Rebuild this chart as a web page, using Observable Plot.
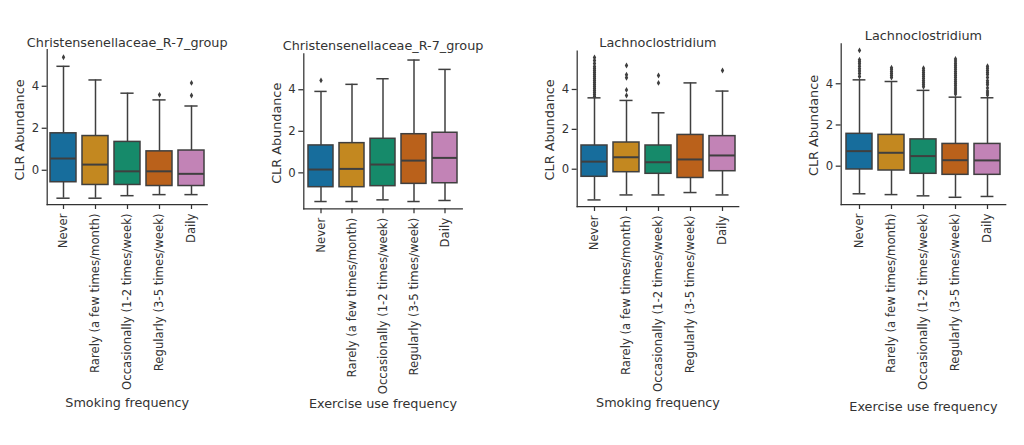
<!DOCTYPE html>
<html>
<head>
<meta charset="utf-8">
<script src="https://cdn.jsdelivr.net/npm/d3@7"></script>
<script src="https://cdn.jsdelivr.net/npm/@observablehq/plot@0.6"></script>
<style>
  html, body { margin: 0; padding: 0; background: #fff; }
  #wrap { position: relative; width: 1024px; height: 445px; overflow: hidden; background: #fff; }
  #wrap svg { position: absolute; top: 0; background: transparent; }
</style>
</head>
<body>
<div id="wrap"></div>
<script>
// ---------- data ----------
const categories = ["Never", "Rarely (a few times/month)", "Occasionally (1-2 times/week)", "Regularly (3-5 times/week)", "Daily"];
const palette = ["#176d9c", "#c38820", "#168a6a", "#ba611b", "#c283b6"];
const yTicks = [0, 2, 4];
const titles = ["Christensenellaceae_R-7_group", "Christensenellaceae_R-7_group", "Lachnoclostridium", "Lachnoclostridium"];
const xLabels = ["Smoking frequency", "Exercise use frequency", "Smoking frequency", "Exercise use frequency"];
const yLabel = "CLR Abundance";

// box stats per category: [lower whisker, Q1, median, Q3, upper whisker]
const chrSmokeBox = [[-1.33, -0.57, 0.56, 1.76, 4.95], [-1.33, -0.70, 0.27, 1.63, 4.30], [-1.21, -0.70, -0.05, 1.35, 3.67], [-1.16, -0.75, -0.05, 0.90, 3.35], [-1.16, -0.75, -0.17, 0.94, 3.06]];
const chrSmokeOut = [[5.38], [], [], [3.59], [4.16, 3.56]];

const chrExerciseBox = [[-1.38, -0.69, 0.16, 1.32, 3.92], [-1.38, -0.69, 0.19, 1.43, 4.26], [-1.30, -0.64, 0.40, 1.64, 4.53], [-1.38, -0.53, 0.59, 1.86, 5.43], [-1.33, -0.50, 0.72, 1.93, 4.98]];
const chrExerciseOut = [[4.45], [], [], [], []];

const lacSmokeBox = [[-1.54, -0.38, 0.38, 1.19, 3.58], [-1.29, -0.15, 0.60, 1.34, 3.45], [-1.29, -0.23, 0.35, 1.19, 2.83], [-1.17, -0.44, 0.49, 1.72, 4.33], [-1.29, -0.10, 0.69, 1.66, 3.92]];
const lacSmokeOut = [
  [3.65, 3.75, 3.85, 3.95, 4.05, 4.15, 4.25, 4.35, 4.45, 4.55, 4.65, 4.75, 4.85, 4.95, 5.05, 5.15, 5.3, 5.45, 5.6],
  [3.70, 3.98, 4.59, 4.74, 5.2],
  [4.33, 4.70],
  [],
  [4.95]
];

const lacExerciseBox = [[-1.34, -0.16, 0.73, 1.57, 4.19], [-1.38, -0.21, 0.65, 1.52, 4.11], [-1.44, -0.37, 0.49, 1.30, 3.68], [-1.51, -0.42, 0.29, 1.08, 3.35], [-1.47, -0.42, 0.28, 1.08, 3.32]];
const lacExerciseOut = [
  [4.35, 4.5, 4.62, 4.73, 4.85, 4.97, 5.07, 5.17, 5.62],
  [4.3, 4.4, 4.5, 4.6, 4.7, 4.78],
  [3.85, 3.95, 4.05, 4.15, 4.25, 4.35, 4.45, 4.55, 4.65, 4.75],
  [3.5, 3.6, 3.7, 3.8, 3.9, 4.0, 4.1, 4.2, 4.3, 4.4, 4.5, 4.6, 4.7, 4.8, 4.9, 5.0, 5.1, 5.2],
  [3.45, 3.55, 3.65, 3.8, 3.95, 4.05, 4.15, 4.3, 4.45, 4.55, 4.65, 4.75, 4.85]
];

// ---------- layout (pixels) ----------
const panels = [
  {box: chrSmokeBox, out: chrSmokeOut, left: 0, width: 220, ml: 46.7, mr: 13.3, mt: 49, mb: 241, yd: [-1.63, 5.75], titleDy: -7, xlDy: 198, ylDx: -27.7, ylDy: 3},
  {box: chrExerciseBox, out: chrExerciseOut, left: 250, width: 220, ml: 53.3, mr: 8.2, mt: 53.3, mb: 236.7, yd: [-1.73, 5.73], titleDy: -8.3, xlDy: 195, ylDx: -26.6, ylDy: 2},
  {box: lacSmokeBox, out: lacSmokeOut, left: 520, width: 230, ml: 56.7, mr: 11.8, mt: 50.7, mb: 239, yd: [-1.87, 5.92], titleDy: -8, xlDy: 196.7, ylDx: -27.4, ylDy: 1},
  {box: lacExerciseBox, out: lacExerciseOut, left: 780, width: 244, ml: 60.7, mr: 18.8, mt: 43.3, mb: 241, yd: [-1.86, 5.94], titleDy: -8.3, xlDy: 202.7, ylDx: -27.4, ylDy: 1.3}
];

const lineColor = "#3f3f3f";
const textColor = "#333333";
const tickFont = 11.7;
const labelFont = 12.8;
const wrap = document.getElementById("wrap");

panels.forEach((p, i) => {
  const rows = categories.map((c, k) => ({cat: c, lo: p.box[k][0], q1: p.box[k][1], med: p.box[k][2], q3: p.box[k][3], hi: p.box[k][4]}));
  const outs = categories.flatMap((c, k) => p.out[k].map(v => ({cat: c, v})));
  const step = (p.width - p.ml - p.mr) / categories.length;
  const capInset = step * 0.8 / 4;
  const chart = Plot.plot({
    width: p.width,
    height: 445,
    marginLeft: p.ml,
    marginRight: p.mr,
    marginTop: p.mt,
    marginBottom: p.mb,
    style: {fontFamily: "DejaVu Sans, sans-serif", fontSize: tickFont + "px", color: textColor, background: "transparent", overflow: "visible"},
    x: {domain: categories, paddingInner: 0.2, paddingOuter: 0.1},
    y: {domain: p.yd},
    color: {domain: categories, range: palette},
    marks: [
      Plot.ruleX(rows, {x: "cat", y1: "lo", y2: "q1", stroke: lineColor, strokeWidth: 1.5}),
      Plot.ruleX(rows, {x: "cat", y1: "q3", y2: "hi", stroke: lineColor, strokeWidth: 1.5}),
      Plot.tickY(rows, {x: "cat", y: "lo", stroke: lineColor, strokeWidth: 1.5, insetLeft: capInset, insetRight: capInset}),
      Plot.tickY(rows, {x: "cat", y: "hi", stroke: lineColor, strokeWidth: 1.5, insetLeft: capInset, insetRight: capInset}),
      Plot.barY(rows, {x: "cat", y1: "q1", y2: "q3", fill: "cat", stroke: lineColor, strokeWidth: 1.5}),
      Plot.tickY(rows, {x: "cat", y: "med", stroke: lineColor, strokeWidth: 2}),
      Plot.dot(outs, {x: "cat", y: "v", symbol: "diamond", r: 1.8, fill: lineColor}),
      Plot.frame({anchor: "left", stroke: textColor, strokeWidth: 1.25}),
      Plot.frame({anchor: "bottom", stroke: textColor, strokeWidth: 1.25}),
      Plot.axisY({ticks: yTicks, tickSize: 5, tickPadding: 3, label: null, stroke: textColor, strokeWidth: 1.25, fill: textColor, fontSize: tickFont}),
      Plot.axisX({tickRotate: -90, tickSize: 5, tickPadding: 4, label: null, stroke: textColor, strokeWidth: 1.25, fill: textColor, fontSize: tickFont}),
      Plot.text([titles[i]], {frameAnchor: "top", textAnchor: "middle", lineAnchor: "middle", dy: p.titleDy, fontSize: labelFont, fill: textColor}),
      Plot.text([xLabels[i]], {frameAnchor: "bottom", textAnchor: "middle", lineAnchor: "middle", dy: p.xlDy, fontSize: labelFont, fill: textColor}),
      Plot.text([yLabel], {frameAnchor: "left", textAnchor: "middle", lineAnchor: "middle", dx: p.ylDx, dy: p.ylDy, rotate: -90, fontSize: labelFont, fill: textColor})
    ]
  });
  chart.style.left = p.left + "px";
  wrap.appendChild(chart);
});
</script>
</body>
</html>
